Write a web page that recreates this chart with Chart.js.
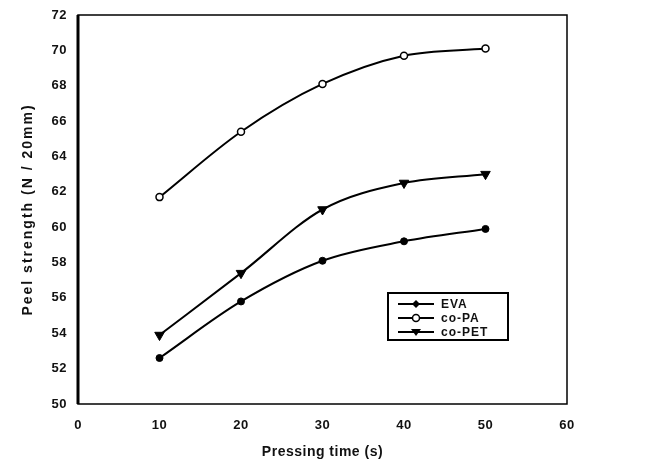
<!DOCTYPE html>
<html><head><meta charset="utf-8">
<script src="https://cdn.jsdelivr.net/npm/chart.js@4.4.0/dist/chart.umd.min.js"></script>
<style>html,body{margin:0;padding:0;background:#fff}#w{width:656px;height:467px}</style>
</head><body><div id="w"><canvas id="c"></canvas></div>
<script>
const pressingTime = [10, 20, 30, 40, 50];
const evaValues = [52.6, 55.8, 58.1, 59.2, 59.9];
const coPaValues = [61.7, 65.4, 68.1, 69.7, 70.1];
const coPetValues = [53.9, 57.4, 61.0, 62.5, 63.0];
const seriesNames = ['EVA', 'co-PA', 'co-PET'];
const xTicks = [0, 10, 20, 30, 40, 50, 60];
const yTicks = [50, 52, 54, 56, 58, 60, 62, 64, 66, 68, 70, 72];

const pts = v => pressingTime.map((x, i) => ({x, y: v[i]}));
const FONT = '"Liberation Sans", Arial, sans-serif';

const legendBox = {
  id: 'legendBox',
  afterDraw(chart) {
    const ctx = chart.ctx;
    const bx = 388, by = 293, bw = 120, bh = 47;
    ctx.save();
    ctx.fillStyle = '#fff';
    ctx.fillRect(bx, by, bw, bh);
    ctx.strokeStyle = '#000';
    ctx.lineWidth = 2;
    ctx.strokeRect(bx, by, bw, bh);
    ctx.font = 'bold 12px ' + FONT;
    ctx.letterSpacing = '1px';
    ctx.textBaseline = 'middle';
    chart.data.datasets.forEach((ds, i) => {
      const y = by + 11 + i * 14;
      ctx.strokeStyle = '#000';
      ctx.lineWidth = 2;
      ctx.beginPath(); ctx.moveTo(398, y); ctx.lineTo(434, y); ctx.stroke();
      const cx = 416;
      ctx.lineWidth = 1.5;
      if (ds.pointStyle === 'circle' && ds.pointBackgroundColor === '#fff') {
        ctx.fillStyle = '#fff';
        ctx.beginPath(); ctx.arc(cx, y, 3.5, 0, Math.PI * 2); ctx.fill(); ctx.stroke();
      } else if (ds.pointStyle === 'triangle') {
        ctx.fillStyle = '#000';
        ctx.beginPath(); ctx.moveTo(cx - 5, y - 3); ctx.lineTo(cx + 5, y - 3); ctx.lineTo(cx, y + 4); ctx.closePath(); ctx.fill();
      } else {
        ctx.fillStyle = '#000';
        ctx.beginPath(); ctx.moveTo(cx, y - 4); ctx.lineTo(cx + 4, y); ctx.lineTo(cx, y + 4); ctx.lineTo(cx - 4, y); ctx.closePath(); ctx.fill();
      }
      ctx.fillStyle = '#111';
      ctx.fillText(ds.label, 441, y + 1);
    });
    ctx.restore();
  }
};

const frame = {
  id: 'frame',
  afterDatasetsDraw(chart) {
    const {ctx, chartArea: a} = chart;
    ctx.save();
    ctx.strokeStyle = '#000';
    ctx.lineWidth = 1.5;
    ctx.strokeRect(a.left, a.top, a.right - a.left, a.bottom - a.top);
    ctx.lineWidth = 3;
    ctx.beginPath(); ctx.moveTo(a.left, a.top); ctx.lineTo(a.left, a.bottom); ctx.stroke();
    ctx.restore();
  }
};

function spaced(scale, px) {
  if (scale._spacedPatched) return;
  scale._spacedPatched = true;
  const origTitle = scale.drawTitle.bind(scale);
  scale.drawTitle = function () {
    const c = this.ctx; c.save(); c.letterSpacing = px; origTitle(); c.restore();
  };
  const origLabels = scale.drawLabels.bind(scale);
  scale.drawLabels = function (a) {
    const c = this.ctx; c.save(); c.letterSpacing = '0.5px'; origLabels(a); c.restore();
  };
}

new Chart(document.getElementById('c'), {
  type: 'line',
  data: {
    datasets: [
      {label: seriesNames[0], data: pts(evaValues), borderColor: '#000', borderWidth: 2,
       pointStyle: 'circle', pointRadius: 3.5, pointBackgroundColor: '#000', pointBorderColor: '#000', pointBorderWidth: 1,
       tension: 0.4, cubicInterpolationMode: 'monotone'},
      {label: seriesNames[1], data: pts(coPaValues), borderColor: '#000', borderWidth: 2,
       pointStyle: 'circle', pointRadius: 3.5, pointBackgroundColor: '#fff', pointBorderColor: '#000', pointBorderWidth: 1.5,
       tension: 0.4, cubicInterpolationMode: 'monotone'},
      {label: seriesNames[2], data: pts(coPetValues), borderColor: '#000', borderWidth: 2,
       pointStyle: 'triangle', pointRotation: 180, pointRadius: 5.5, pointBackgroundColor: '#000', pointBorderColor: '#000', pointBorderWidth: 1,
       tension: 0.4, cubicInterpolationMode: 'monotone'}
    ]
  },
  options: {
    responsive: true, maintainAspectRatio: false, animation: false,
    layout: {padding: {top: 15, right: 89, left: 0, bottom: 0}},
    plugins: {legend: {display: false}, tooltip: {enabled: false}},
    scales: {
      x: {
        type: 'linear', min: 0, max: 60,
        afterBuildTicks: s => { s.ticks = xTicks.map(v => ({value: v})); },
        afterFit: s => { s.height = 63; spaced(s, '0.5px'); },
        grid: {display: false, drawTicks: true, tickLength: 5, tickColor: '#000'},
        border: {display: false},
        ticks: {color: '#111', font: {family: FONT, size: 13, weight: 'bold'}, padding: 9},
        title: {display: true, text: 'Pressing time (s)', color: '#111', font: {family: FONT, size: 14, weight: 'bold'}, padding: {top: 4, bottom: 6}}
      },
      y: {
        min: 50, max: 72,
        afterBuildTicks: s => { s.ticks = yTicks.map(v => ({value: v})); },
        afterFit: s => { s.width = 78; spaced(s, '2px'); },
        grid: {display: false, drawTicks: true, tickLength: 5, tickColor: '#000'},
        border: {display: false},
        ticks: {color: '#111', font: {family: FONT, size: 13, weight: 'bold'}, padding: 6},
        title: {display: true, text: 'Peel strength (N / 20mm)', color: '#111', font: {family: FONT, size: 14, weight: 'bold'}, padding: {top: 20, bottom: 0}}
      }
    }
  },
  plugins: [frame, legendBox]
});
</script></body></html>
